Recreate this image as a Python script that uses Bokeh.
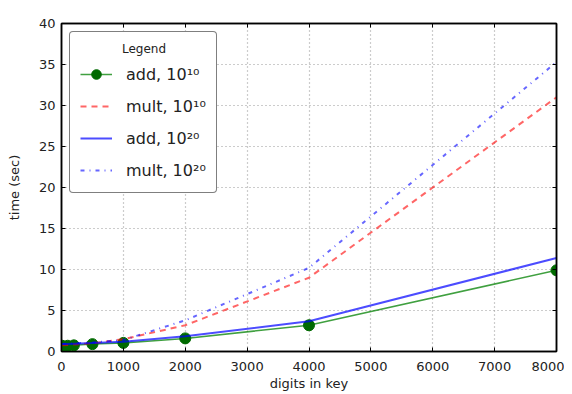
from bokeh.plotting import figure
from bokeh.models import (Range1d, SingleIntervalTicker, LinearAxis, Legend, LegendItem,
                          CustomJSTickFormatter)
from bokeh.embed import file_html
from bokeh.resources import INLINE

digits = [10, 100, 200, 500, 1000, 2000, 4000, 8000]
add_1e10 = [0.7, 0.7, 0.75, 0.9, 1.05, 1.6, 3.2, 9.9]
mult_1e10 = [0.75, 0.8, 0.85, 1.0, 1.5, 3.2, 9.0, 31.0]
add_1e20 = [0.9, 0.9, 0.95, 1.05, 1.2, 1.85, 3.7, 11.4]
mult_1e20 = [0.9, 0.95, 1.0, 1.1, 1.4, 3.8, 10.2, 35.3]

labels = ["add, 10\u00b9\u2070", "mult, 10\u00b9\u2070", "add, 10\u00b2\u2070", "mult, 10\u00b2\u2070"]
legend_title = "Legend"

FONT = "DejaVu Sans"

p = figure(width=564, height=394, output_backend="svg", toolbar_location=None,
           x_range=Range1d(0, 8000), y_range=Range1d(0, 40),
           min_border_left=61, min_border_right=8, min_border_top=23, min_border_bottom=43)

p.outline_line_color = "black"
p.outline_line_width = 1.5

for ax in (p.xaxis[0], p.yaxis[0]):
    ax.major_tick_in = 4
    ax.major_tick_out = 0
    ax.minor_tick_in = 0
    ax.minor_tick_out = 0
    ax.axis_line_color = "black"
    ax.axis_line_width = 1.5
    ax.major_label_text_font = FONT
    ax.major_label_text_font_size = "13px"
    ax.major_label_text_color = "#222222"
    ax.axis_label_text_font = FONT
    ax.axis_label_text_font_size = "13px"
    ax.axis_label_text_font_style = "normal"
    ax.axis_label_text_color = "#222222"

p.xaxis[0].major_label_standoff = 10
p.xaxis[0].axis_label_standoff = 2
p.yaxis[0].major_label_standoff = 6
p.yaxis[0].axis_label_standoff = 14

p.xaxis[0].ticker = SingleIntervalTicker(interval=1000)
p.yaxis[0].ticker = SingleIntervalTicker(interval=5)
p.xaxis[0].axis_label = "digits in key"
p.yaxis[0].axis_label = "time (sec)"

# top and right tick marks (no labels)
for loc, interval in (("above", 1000), ("right", 5)):
    ax = LinearAxis(ticker=SingleIntervalTicker(interval=interval),
                    formatter=CustomJSTickFormatter(code="return ''"))
    ax.major_tick_in = 4
    ax.major_tick_out = 0
    ax.minor_tick_in = 0
    ax.minor_tick_out = 0
    ax.major_label_standoff = 0
    ax.axis_line_color = "black"
    ax.axis_line_width = 1.5
    p.add_layout(ax, loc)

p.xgrid.ticker = SingleIntervalTicker(interval=1000)
p.ygrid.ticker = SingleIntervalTicker(interval=5)
p.grid.grid_line_color = "#999999"
p.grid.grid_line_dash = "1 3"
p.grid.grid_line_width = 1.2

r1 = p.line(digits, add_1e10, line_color="#008000", line_width=1.5, line_alpha=0.75)
r1m = p.scatter(digits, add_1e10, size=11, fill_color="#006a00", line_color="#006a00")
r2 = p.line(digits, mult_1e10, line_color="#ff0000", line_width=2, line_alpha=0.6, line_dash="6 5")
r3 = p.line(digits, add_1e20, line_color="#0000ff", line_width=2, line_alpha=0.7)
r4 = p.line(digits, mult_1e20, line_color="#0000ff", line_width=2, line_alpha=0.6, line_dash="4 5 1 5")

legend = Legend(items=[
    LegendItem(label=labels[0], renderers=[r1, r1m]),
    LegendItem(label=labels[1], renderers=[r2]),
    LegendItem(label=labels[2], renderers=[r3]),
    LegendItem(label=labels[3], renderers=[r4]),
], location="top_left")
legend.title = "\u00a0" * 11 + legend_title
legend.title_text_font = FONT
legend.title_text_font_size = "12px"
legend.title_text_font_style = "normal"
legend.title_text_color = "#222222"
legend.title_standoff = 6
legend.label_text_font = FONT
legend.label_text_font_size = "16px"
legend.label_text_color = "#222222"
legend.glyph_width = 32
legend.glyph_height = 24
legend.label_height = 24
legend.spacing = 8
legend.padding = 10
legend.margin = 8
legend.label_standoff = 14
legend.border_line_color = "black"
legend.border_line_width = 1.5
legend.border_radius = 4
legend.background_fill_color = "white"
legend.background_fill_alpha = 1.0
p.add_layout(legend, "center")

open("out.html", "w").write(file_html(p, INLINE))
